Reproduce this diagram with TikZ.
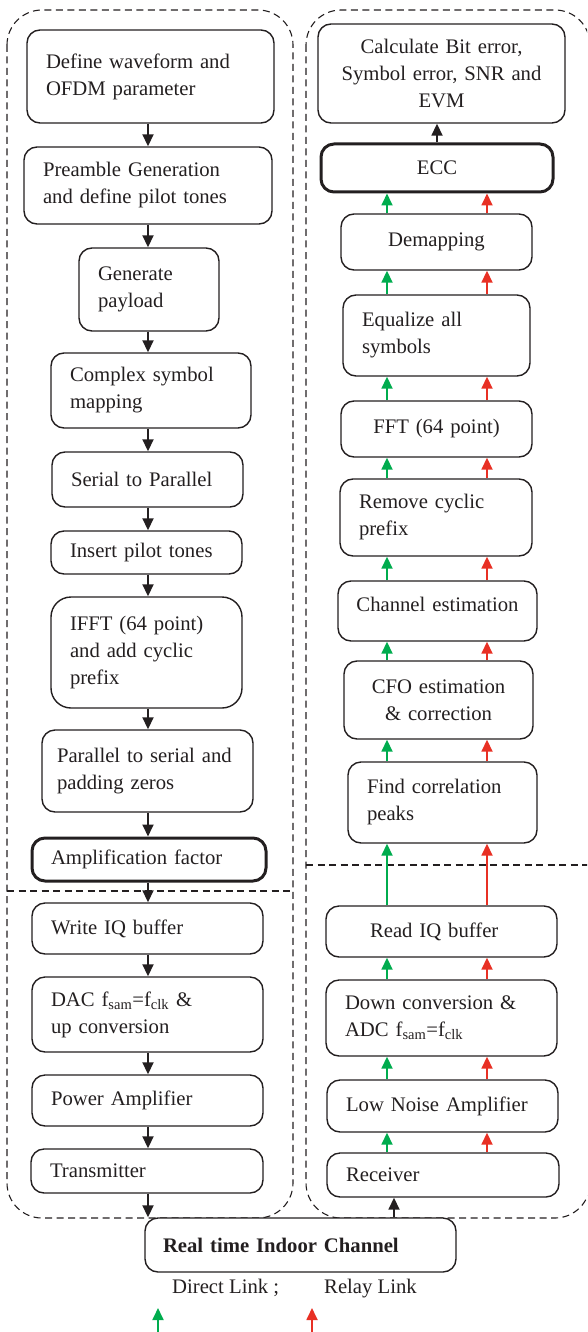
\documentclass[tikz,border=0pt]{standalone}
\usepackage{fontspec}
\setmainfont{Liberation Serif}
\usetikzlibrary{arrows.meta}
\definecolor{mgreen}{RGB}{0,172,78}
\definecolor{mred}{RGB}{232,48,36}
\definecolor{mink}{RGB}{35,31,32}
\newcommand\dgfont{\fontsize{20.7}{27}\selectfont}
\tikzset{box/.style = {draw, rounded corners=13pt, line width=1.4pt,
                       inner xsep=19pt, inner ysep=0pt, align=left, font=\dgfont},
         cbox/.style = {box, inner xsep=4pt, align=center},
         thk/.style = {line width=3pt},
         flow/.style = {-{Triangle[length=12pt, width=11pt]}, line width=1.8pt},
         frame/.style = {dash pattern=on 7pt off 4.5pt, line width=1.1pt, rounded corners=35pt}}

\begin{document}
\begin{tikzpicture}[x=1pt, y=-1pt, color=mink]
    \useasboundingbox (0, 0) rectangle (587, 1332);
    \clip (0, 0) rectangle (587, 1332);
    % transmitter and receiver frames
    \draw [frame] (7, 10) rectangle (293, 1218);
    \draw [frame] (306, 10) rectangle (590, 1218);
    \draw [frame] (7, 891) -- (293, 891);
    \draw [frame] (306, 865) -- (590, 865);
    % transmitter chain
    \node [box, text width=209pt, minimum height=93pt] (def) at (150.5, 76.5) {Define waveform and\\OFDM parameter};
    \node [box, text width=210pt, minimum height=77pt] (pre) at (148, 185.5) {Preamble Generation\\and define pilot tones};
    \node [box, text width=102pt, minimum height=83pt] (gen) at (149, 289.5) {Generate\\payload};
    \node [box, text width=162pt, minimum height=75pt] (map) at (151, 390.5) {Complex symbol\\mapping};
    \node [box, text width=153pt, minimum height=55pt] (s2p) at (147.5, 479.5) {Serial to Parallel};
    \node [box, text width=153pt, minimum height=43pt] (pil) at (146.5, 552.5) {Insert pilot tones};
    \node [box, text width=153pt, minimum height=111pt, rounded corners=20pt] (ifft) at (146.5, 652.5) {IFFT (64 point)\\and add cyclic\\prefix};
    \node [box, text width=181pt, inner xsep=15pt, minimum height=82pt] (p2s) at (147.5, 771) {\mbox{Parallel to serial and}\\padding zeros};
    \node [box, thk, text width=196pt, minimum height=43pt] (amp) at (149, 859.5) {Amplification factor};
    \node [box, text width=193pt, minimum height=51pt] (wiq) at (147.5, 928.5) {Write IQ buffer};
    \node [box, text width=193pt, minimum height=75pt] (dac) at (147.5, 1014.5) {DAC f\textsubscript{sam}=f\textsubscript{clk} \&\\up conversion};
    \node [box, text width=193pt, minimum height=51pt] (pa) at (147.5, 1100.5) {Power Amplifier};
    \node [box, text width=194pt, minimum height=44pt] (tx) at (147, 1171) {Transmitter};
    % receiver chain
    \node [cbox, text width=239pt, minimum height=99pt] (calc) at (441.5, 73.5) {Calculate Bit error,\\Symbol error, SNR and\\EVM};
    \node [cbox, thk, text width=224pt, minimum height=48pt] (ecc) at (437, 168) {ECC};
    \node [cbox, text width=183pt, minimum height=56pt] (dem) at (436.5, 242) {Demapping};
    \node [box, text width=149pt, minimum height=81pt] (equ) at (436.5, 335.5) {Equalize all\\symbols};
    \node [cbox, text width=183pt, minimum height=56pt] (fft) at (436.5, 429) {FFT (64 point)};
    \node [box, text width=154pt, minimum height=77pt] (rcp) at (436, 517.5) {Remove cyclic\\prefix};
    \node [cbox, text width=191pt, minimum height=60pt, text depth=14pt] (che) at (437.5, 611) {Channel estimation};
    \node [cbox, text width=181pt, minimum height=78pt] (cfo) at (438.5, 700) {CFO estimation\\\& correction};
    \node [box, text width=151pt, minimum height=81pt] (fcp) at (442.5, 802.5) {Find correlation\\peaks};
    \node [box, text width=193pt, minimum height=51pt] (riq) at (441.5, 931.5) {\hspace*{25pt}Read IQ buffer};
    \node [box, text width=193pt, minimum height=76pt] (dnc) at (441.5, 1018) {Down conversion \&\\ADC f\textsubscript{sam}=f\textsubscript{clk}};
    \node [box, text width=193pt, minimum height=52pt] (lna) at (442.5, 1106) {Low Noise Amplifier};
    \node [box, text width=194pt, minimum height=44pt] (rcv) at (443, 1175) {Receiver};
    % channel and legend
    \node [box, fill=white, text width=275pt, minimum height=54pt, inner xsep=18pt, font=\dgfont\bfseries] (chan) at (300.5, 1245) {Real time Indoor Channel};
    \node [font=\dgfont, anchor=base west, inner sep=0pt] (dlk) at (172, 1293) {Direct Link ;};
    \node [font=\dgfont, anchor=base west, inner sep=0pt] (rlk) at (324, 1293) {Relay Link};
    % arrow columns
    \coordinate (lcol) at (148, 0);
    \coordinate (dcol) at (387, 0);
    \coordinate (rcol) at (487, 0);
    \coordinate (ecol) at (437, 0);
    \coordinate (chcol) at (394, 0);
    \foreach \a/\b in {def/pre, pre/gen, gen/map, map/s2p, s2p/pil, pil/ifft, ifft/p2s, p2s/amp, amp/wiq, wiq/dac, dac/pa, pa/tx, tx/chan}
        \draw [flow] (\a.south -| lcol) -- (\b.north -| lcol);
    \foreach \a/\b in {rcv/lna, lna/dnc, dnc/riq, riq/fcp, fcp/cfo, cfo/che, che/rcp, rcp/fft, fft/equ, equ/dem, dem/ecc} {
        \draw [flow, mgreen] (\a.north -| dcol) -- (\b.south -| dcol);
        \draw [flow, mred] (\a.north -| rcol) -- (\b.south -| rcol);
    }
    \draw [flow] (ecc.north -| ecol) -- (calc.south -| ecol);
    \draw [flow] (chan.north -| chcol) -- (rcv.south -| chcol);
    \coordinate (gtail) at (158, 1340);
    \coordinate (ghead) at (158, 1308);
    \coordinate (rtail) at (312, 1340);
    \coordinate (rhead) at (312, 1308);
    \draw [flow, mgreen] (gtail) -- (ghead);
    \draw [flow, mred] (rtail) -- (rhead);
\end{tikzpicture}
\end{document}
